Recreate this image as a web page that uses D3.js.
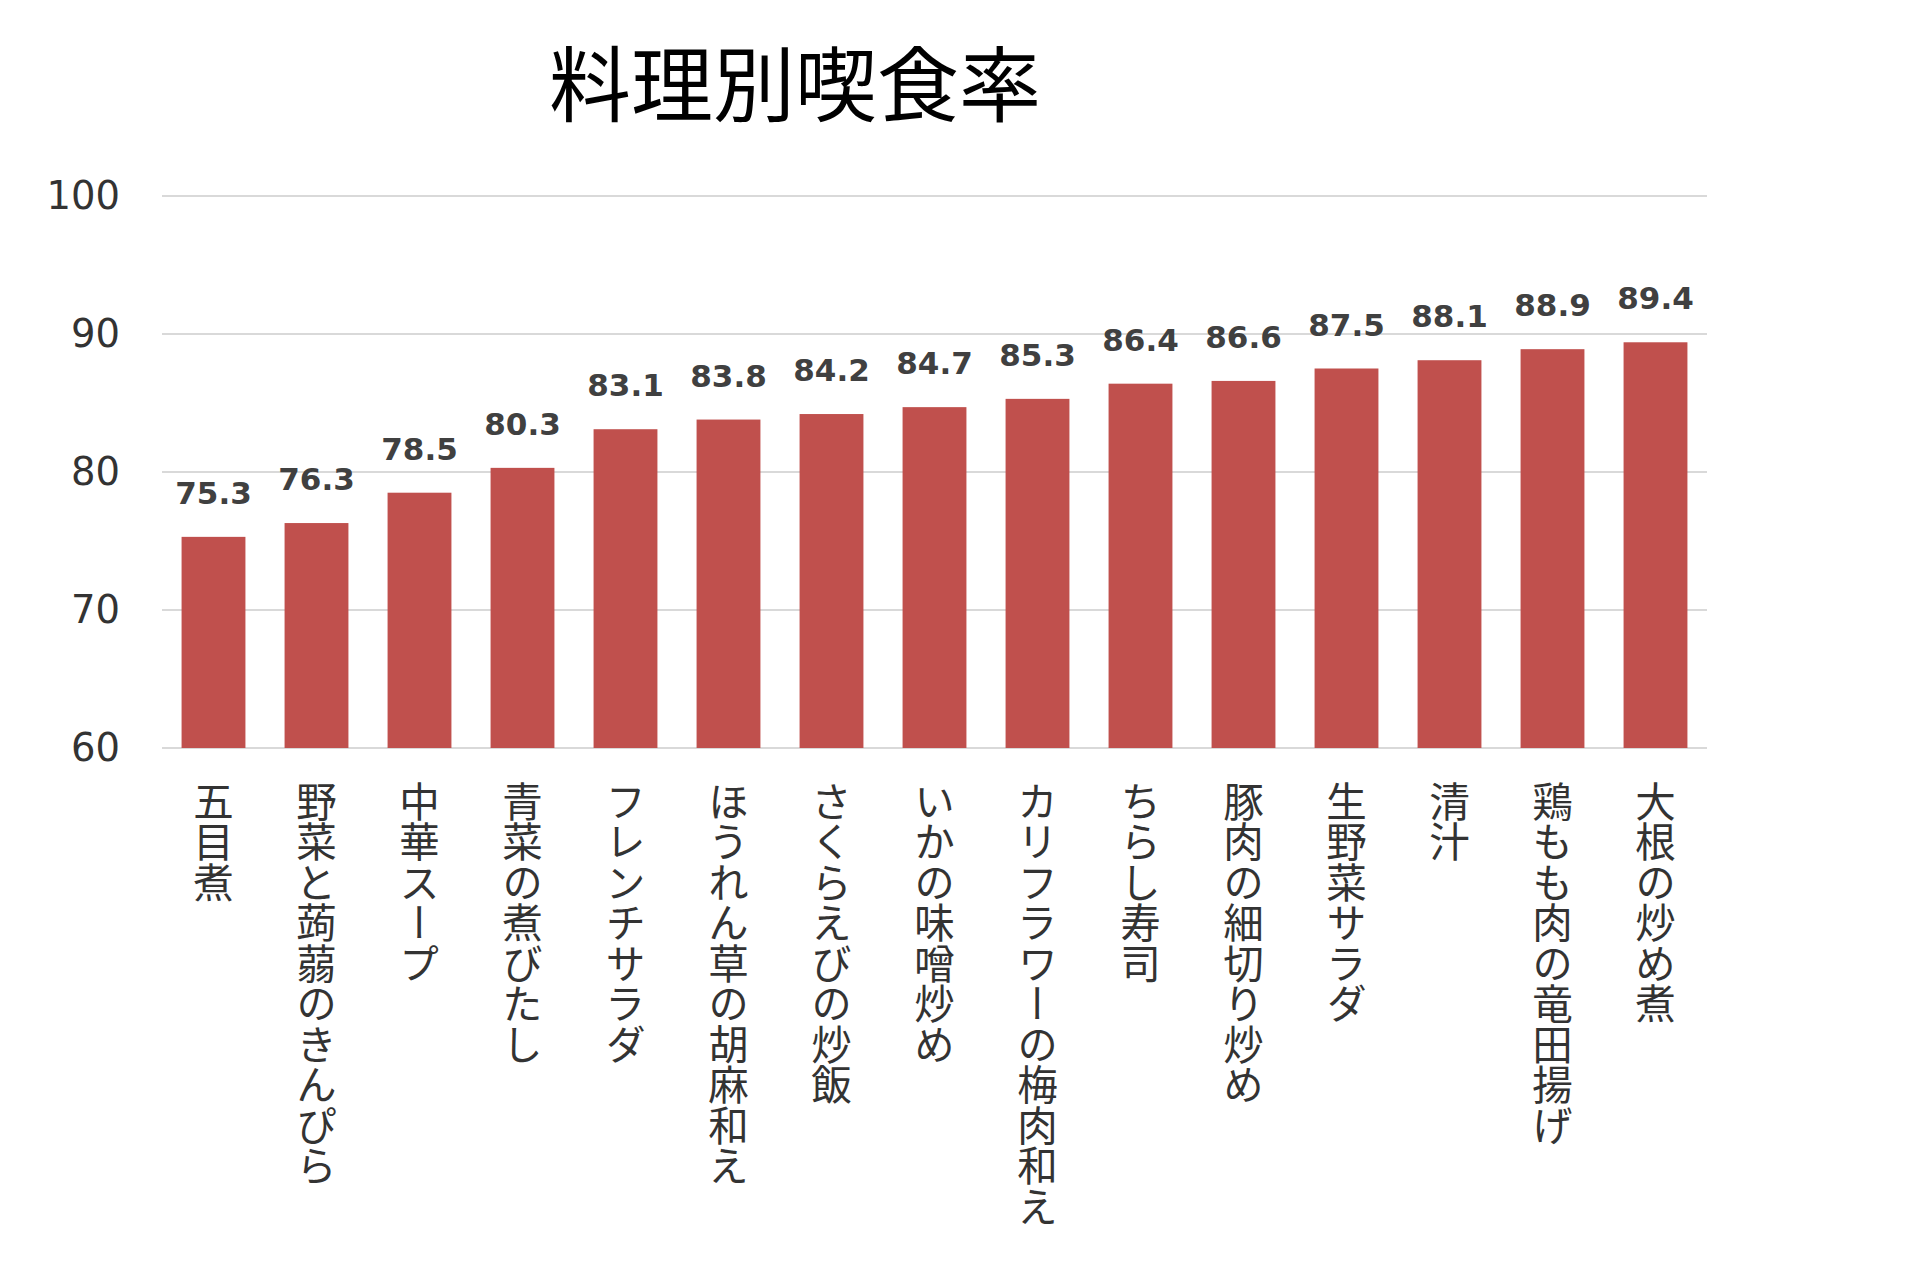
<!DOCTYPE html>
<html>
<head>
<meta charset="utf-8">
<script src="https://cdn.jsdelivr.net/npm/d3@7"></script>
<style>
  body { margin: 0; background: #fff; }
  svg { display: block; }
</style>
</head>
<body>
<div id="chart"></div>
<script>
// Data
const title = '料理別喫食率'
const dishes = ['五目煮', '野菜と蒟蒻のきんぴら', '中華スープ', '青菜の煮びたし', 'フレンチサラダ',
  'ほうれん草の胡麻和え', 'さくらえびの炒飯', 'いかの味噌炒め', 'カリフラワーの梅肉和え', 'ちらし寿司',
  '豚肉の細切り炒め', '生野菜サラダ', '清汁', '鶏もも肉の竜田揚げ', '大根の炒め煮']
const rates = [75.3, 76.3, 78.5, 80.3, 83.1, 83.8, 84.2, 84.7, 85.3, 86.4, 86.6, 87.5, 88.1, 88.9, 89.4]
const yTicks = [60, 70, 80, 90, 100]

const dataset = dishes.map((d, i) => ({ name: d, value: rates[i] }))

// Dimensions
const width = 1906
const height = 1263
const plot = { left: 162, right: 1707, top: 196, bottom: 748 }

const svg = d3.select('#chart')
  .append('svg')
  .attr('width', width)
  .attr('height', height)

// Scales
const xScale = d3.scaleBand()
  .domain(dishes)
  .range([plot.left, plot.right])
  .paddingInner(0.38)
  .paddingOuter(0.19)

const yScale = d3.scaleLinear()
  .domain([60, 100])
  .range([plot.bottom, plot.top])

// grid
svg.append('g')
  .selectAll('line')
  .data(yTicks)
  .join('line')
  .attr('x1', plot.left)
  .attr('x2', plot.right)
  .attr('y1', d => yScale(d))
  .attr('y2', d => yScale(d))
  .attr('stroke', '#d9d9d9')
  .attr('stroke-width', 2)

// y axis labels
const yAxis = d3.axisLeft(yScale).tickValues(yTicks).tickSize(0).tickPadding(0)
svg.append('g')
  .attr('transform', `translate(120, 0)`)
  .call(yAxis)
  .call(g => g.select('.domain').remove())
  .call(g => g.selectAll('text')
    .attr('fill', '#333')
    .style('font-family', 'DejaVu Sans, Verdana, sans-serif')
    .style('font-size', '38.5px'))

// bars
svg.append('g')
  .selectAll('rect')
  .data(dataset)
  .join('rect')
  .attr('x', d => xScale(d.name))
  .attr('y', d => yScale(d.value))
  .attr('width', xScale.bandwidth())
  .attr('height', d => yScale(60) - yScale(d.value))
  .attr('fill', '#c0504d')

// value labels
svg.append('g')
  .selectAll('text')
  .data(dataset)
  .join('text')
  .attr('x', d => xScale(d.name) + xScale.bandwidth() / 2)
  .attr('y', d => yScale(d.value) - 33)
  .attr('text-anchor', 'middle')
  .attr('fill', '#404040')
  .style('font-family', 'DejaVu Sans, Verdana, sans-serif')
  .style('font-weight', 'bold')
  .style('font-size', '31px')
  .text(d => d.value.toFixed(1))

// category labels (vertical)
svg.append('g')
  .selectAll('text')
  .data(dataset)
  .join('text')
  .attr('x', d => xScale(d.name) + xScale.bandwidth() / 2)
  .attr('y', 781)
  .attr('fill', '#333')
  .style('writing-mode', 'vertical-rl')
  .style('text-orientation', 'upright')
  .style('font-family', '"Noto Sans CJK JP", sans-serif')
  .style('font-size', '40.5px')
  .text(d => d.name)

// title
svg.append('text')
  .attr('x', 795)
  .attr('y', 115)
  .attr('text-anchor', 'middle')
  .attr('fill', '#000')
  .style('font-family', '"Noto Sans CJK JP", sans-serif')
  .style('font-size', '82px')
  .text(title)
</script>
</body>
</html>
